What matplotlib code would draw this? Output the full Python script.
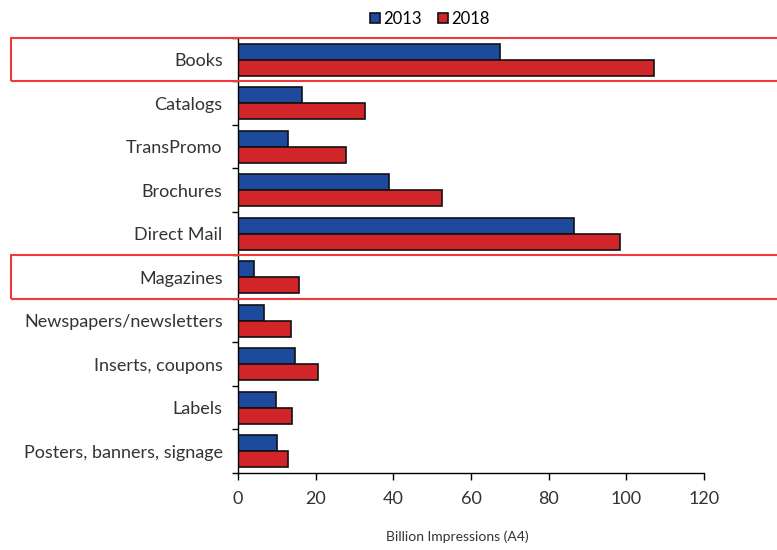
import numpy as np
import matplotlib.pyplot as plt
from matplotlib.patches import Rectangle

plt.rcParams['font.family'] = ['Lato', 'DejaVu Sans']

categories = ['Books', 'Catalogs', 'TransPromo', 'Brochures', 'Direct Mail',
              'Magazines', 'Newspapers/newsletters', 'Inserts, coupons',
              'Labels', 'Posters, banners, signage']
vals_2013 = [67.5, 16.4, 13.0, 39.0, 86.4, 4.1, 6.6, 14.8, 9.9, 10.1]
vals_2018 = [107.2, 32.7, 27.7, 52.6, 98.3, 15.6, 13.6, 20.7, 14.0, 13.0]
highlight = ['Books', 'Magazines']

blue = '#1d4a9c'
red = '#d1252a'

fig = plt.figure(figsize=(7.77, 5.5), dpi=100)
ax = fig.add_axes([238/777, 1 - 473/550, (704-238)/777, (473-38)/550])

y = np.arange(len(categories))
h = 0.37
ax.barh(y - h/2, vals_2013, height=h, color=blue, edgecolor='#111111', linewidth=1.2, label='2013')
ax.barh(y + h/2, vals_2018, height=h, color=red, edgecolor='#111111', linewidth=1.2, label='2018')

ax.set_ylim(len(categories) - 0.5, -0.5)
ax.set_xlim(0, 120)
ax.set_xticks(np.arange(0, 121, 20))
ax.set_yticks(y)
ax.set_yticklabels(categories, fontsize=13, color='#333333')
ax.set_yticks(np.arange(-0.5, len(categories), 1), minor=True)
ax.tick_params(axis='y', which='major', length=0, pad=11)
ax.tick_params(axis='y', which='minor', length=4, width=1, direction='out')
ax.tick_params(axis='x', length=5, width=1, direction='out', labelsize=13, labelcolor='#333333', pad=8)

for s in ['top', 'right']:
    ax.spines[s].set_visible(False)
ax.spines['left'].set_linewidth(1)
ax.spines['bottom'].set_linewidth(1)

fig.text(457/777, 1 - 537/550, 'Billion Impressions (A4)', ha='center', va='center',
         fontsize=10, color='#333333')

ax.legend(loc='upper center', bbox_to_anchor=(430/777, 1 - 4/550), bbox_transform=fig.transFigure,
          ncol=2, frameon=False, fontsize=12, handlelength=0.6, handleheight=0.6,
          handletextpad=0.2, columnspacing=1.0, borderaxespad=0)

# red highlight boxes around selected rows
for name in highlight:
    i = categories.index(name)
    y0 = ax.transData.transform((0, i + 0.5))[1]
    y1 = ax.transData.transform((0, i - 0.5))[1]
    y0f = fig.transFigure.inverted().transform((0, y0))[1]
    y1f = fig.transFigure.inverted().transform((0, y1))[1]
    fig.patches.append(Rectangle((11/777, y0f), 1.0, y1f - y0f, transform=fig.transFigure,
                                 fill=False, edgecolor='#ee3a3a', linewidth=1.5, zorder=10))

fig.savefig('out.png', dpi=100)
